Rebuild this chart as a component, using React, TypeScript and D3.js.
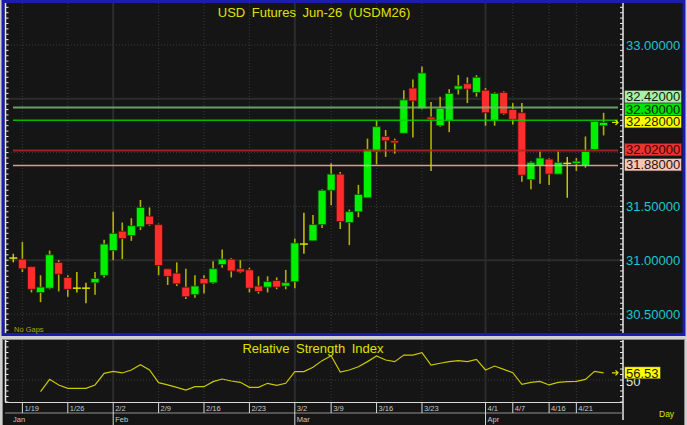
import React from "react";
import * as d3 from "d3";

const dates = [
  "1/16",
  "1/19", "1/20", "1/21", "1/22", "1/23",
  "1/26", "1/27", "1/28", "1/29", "1/30",
  "2/2", "2/3", "2/4", "2/5", "2/6",
  "2/9", "2/10", "2/11", "2/12", "2/13",
  "2/16", "2/17", "2/18", "2/19", "2/20",
  "2/23", "2/24", "2/25", "2/26", "2/27",
  "3/2", "3/3", "3/4", "3/5",
  "3/9", "3/10", "3/11", "3/12", "3/13",
  "3/16", "3/17", "3/18", "3/19", "3/20",
  "3/23", "3/24", "3/25", "3/26", "3/27", "3/30", "3/31",
  "4/1", "4/2", "4/6",
  "4/7", "4/8", "4/9", "4/10",
  "4/16", "4/17", "4/20",
  "4/21", "4/22", "4/23", "4/24",
];

const openP = [
  31.02, 31.01, 30.94, 30.70, 30.74, 30.98, 30.84, 30.74, 30.74, 30.79,
  30.86, 31.09, 31.27, 31.23, 31.31, 31.41, 31.33, 30.92, 30.88, 30.75,
  30.68, 30.83, 30.79, 30.96, 31.01, 30.92, 30.91, 30.76, 30.75, 30.81,
  30.76, 30.80, 31.15, 31.18, 31.33, 31.65, 31.80, 31.35, 31.45, 31.58,
  32.01, 32.15, 32.11, 32.18, 32.60, 32.41, 32.33, 32.25, 32.30, 32.59,
  32.64, 32.56, 32.58, 32.30, 32.56, 32.40, 32.37, 31.75, 31.88, 31.94,
  31.80, 31.90, 31.90, 31.88, 32.03, 32.25,
];
const highP = [
  31.06, 31.17, 30.94, 30.86, 31.09, 31.00, 30.86, 30.89, 30.79, 30.89,
  31.19, 31.45, 31.35, 31.39, 31.56, 31.49, 31.34, 30.92, 30.98, 30.92,
  30.86, 30.86, 30.99, 31.10, 31.02, 31.00, 30.93, 30.85, 30.85, 30.84,
  30.91, 31.20, 31.44, 31.42, 31.66, 31.90, 31.82, 31.47, 31.70, 32.13,
  32.30, 32.21, 32.13, 32.58, 32.68, 32.80, 32.47, 32.52, 32.59, 32.72,
  32.70, 32.72, 32.60, 32.56, 32.57, 32.46, 32.46, 31.92, 32.01, 31.95,
  32.01, 31.96, 31.95, 32.15, 32.29, 32.37,
];
const lowP = [
  30.98, 30.89, 30.70, 30.61, 30.73, 30.71, 30.66, 30.70, 30.60, 30.68,
  30.84, 31.00, 31.01, 31.18, 31.28, 31.32, 30.86, 30.77, 30.76, 30.64,
  30.65, 30.69, 30.78, 30.93, 30.84, 30.88, 30.70, 30.69, 30.70, 30.73,
  30.73, 30.74, 31.06, 31.18, 31.30, 31.51, 31.29, 31.14, 31.40, 31.58,
  31.89, 31.96, 31.99, 32.18, 32.14, 32.40, 31.83, 32.24, 32.19, 32.54,
  32.46, 32.52, 32.25, 32.25, 32.35, 32.26, 31.73, 31.66, 31.71, 31.70,
  31.80, 31.58, 31.83, 31.86, 32.02, 32.16,
];
const closeP = [
  31.02, 30.92, 30.73, 30.75, 31.05, 30.87, 30.73, 30.74, 30.74, 30.83,
  31.15, 31.25, 31.20, 31.32, 31.49, 31.33, 30.95, 30.85, 30.78, 30.66,
  30.76, 30.78, 30.92, 31.01, 30.90, 30.89, 30.74, 30.71, 30.80, 30.75,
  30.79, 31.16, 31.15, 31.33, 31.65, 31.80, 31.36, 31.45, 31.61, 32.03,
  32.24, 32.11, 32.09, 32.49, 32.48, 32.74, 32.31, 32.41, 32.55, 32.62,
  32.59, 32.70, 32.37, 32.55, 32.36, 32.31, 31.79, 31.91, 31.95, 31.80,
  31.91, 31.90, 31.92, 32.01, 32.29, 32.28,
];

const rsiValues: (number | null)[] = [
  null, null, null, 39.4, 50.6, 45.5, 42.4, 42.4, 42.4, 45.5,
  56.1, 57.9, 56.4, 59.1, 63.9, 59.1, 47.6, 45.5, 43.3, 40.9,
  43.9, 43.9, 48.5, 50.9, 49.1, 47.9, 43.3, 43.3, 47.0, 45.2,
  47.0, 57.6, 57.6, 61.5, 67.6, 72.1, 57.3, 59.1, 62.1, 66.7,
  71.8, 68.2, 66.7, 72.7, 72.7, 74.8, 63.6, 65.2, 66.7, 67.6,
  66.7, 68.8, 59.1, 62.7, 59.7, 56.7, 46.1, 47.9, 48.8, 45.5,
  47.9, 48.5, 48.8, 50.6, 57.9, 56.53,
];

const tickDates = ["1/19", "1/26", "2/2", "2/9", "2/16", "2/23", "3/2", "3/9", "3/16", "3/23", "4/1", "4/7", "4/16", "4/21"];
const monthLabels = ["Jan", "Feb", "Mar", "Apr"];
const monthStartDates = ["1/16", "2/2", "3/2", "4/1"];
const priceTicks = [30.5, 31.0, 31.5, 32.0, 32.5, 33.0];
const solidPriceGrid = [31.0, 32.5];
const levelValues = [32.42, 32.30, 32.02, 31.88];
const lastPrice = 32.28;
const rsiTickLabel = 50;
const lastRsi = 56.53;

const FONT = "'Liberation Sans', Arial, sans-serif";

export default function App() {
  const W = 687, H = 425;
  const plotL = 5, plotR = 623, plotT = 3, plotB = 333;
  const rsiT = 340, rsiB = 402;

  const x = d3.scaleLinear().domain([0, dates.length - 1]).range([13.3, 603.6]);
  const y = d3.scaleLinear().domain([30.5, 33]).range([314, 45]);
  const yR = d3.scaleLinear().domain([30, 85]).range([402, 341.5]);

  const tickIdx = tickDates.map((d) => dates.indexOf(d));
  const monthIdx = monthStartDates.map((d) => dates.indexOf(d));

  const vTop = y.invert(plotT), vBot = y.invert(plotB);
  const minorTicks: number[] = [];
  for (let k = Math.ceil(vBot / 0.05); k <= Math.floor(vTop / 0.05); k++) minorTicks.push(k * 0.05);
  const rsiMinor: number[] = [];
  for (let k = 30; k <= 85; k += 5) rsiMinor.push(k);

  const levelLine = [
    { stroke: "#74b874", w: 2 },
    { stroke: "#00d400", w: 1.5 },
    { stroke: "#b02424", w: 2 },
    { stroke: "#e8baa8", w: 1.5 },
  ];
  const levelBox = [
    { bg: "#a8f0a8", fg: "#102010" },
    { bg: "#00e400", fg: "#002000" },
    { bg: "#e83434", fg: "#3a0000" },
    { bg: "#f4c6b6", fg: "#301010" },
  ];

  type Lab = { v: number; bg: string; fg: string; pos?: number };
  const labs: Lab[] = levelValues.map((v, i) => ({ v, bg: levelBox[i].bg, fg: levelBox[i].fg }));
  labs.push({ v: lastPrice, bg: "#ffff00", fg: "#202000" });
  labs.sort((a, b) => a.v - b.v);
  const boxH = 12.5;
  let prev = Infinity;
  labs.forEach((l) => {
    const nat = y(l.v) - 0.8;
    l.pos = Math.min(nat, prev - boxH);
    prev = l.pos;
  });
  // axis labels hidden behind a level box are not drawn
  const visibleTicks = priceTicks.filter(
    (v) => !labs.some((l) => Math.abs(y(v) - (l.pos as number)) < boxH)
  );

  const rsiLine = d3
    .line<number | null>()
    .defined((d) => d !== null)
    .x((_, i) => x(i))
    .y((d) => yR(d as number));

  const bodyW = 8;

  return (
    <svg width={W} height={H} style={{ position: "absolute", left: 0, top: 0, display: "block" }} fontFamily={FONT}>
      <rect x={0} y={0} width={W} height={H} fill="#d0d0d0" />
      <rect x={3} y={1.5} width={681} height={333} fill="#151515" stroke="#1c1cb0" strokeWidth={3} />
      <rect x={2.5} y={339.5} width={682} height={86} fill="#151515" stroke="#8a8a8a" strokeWidth={1} />

      {priceTicks.map((v) => {
        const solid = solidPriceGrid.includes(v);
        return (
          <line key={"hg" + v} x1={plotL} x2={plotR} y1={y(v)} y2={y(v)}
            stroke={solid ? "#2c2c2c" : "#3a3a3a"} strokeWidth={solid ? 2 : 1}
            strokeDasharray={solid ? undefined : "1 2"} />
        );
      })}
      {tickIdx.map((i, k) => {
        const solid = monthIdx.includes(i);
        return (
          <line key={"vg" + k} x1={x(i)} x2={x(i)} y1={plotT} y2={plotB}
            stroke={solid ? "#2c2c2c" : "#3a3a3a"} strokeWidth={solid ? 2 : 1}
            strokeDasharray={solid ? undefined : "1 2"} />
        );
      })}

      <text x={314} y={17} textAnchor="middle" fill="#e0e000" fontSize={13} wordSpacing={3}>
        USD Futures Jun-26 (USDM26)
      </text>

      {dates.map((d, i) => {
        const o = openP[i], c = closeP[i], h = highP[i], l = lowP[i];
        const cx = x(i);
        if (Math.abs(o - c) < 0.005) {
          return (
            <g key={"c" + i}>
              <line x1={cx} x2={cx} y1={y(h)} y2={y(l)} stroke="#c8c800" strokeWidth={1.5} />
              <line x1={cx - bodyW / 2} x2={cx + bodyW / 2} y1={y(o)} y2={y(o)} stroke="#e0e000" strokeWidth={1.5} />
            </g>
          );
        }
        const up = c > o;
        const top = y(Math.max(o, c)), bot = y(Math.min(o, c));
        return (
          <g key={"c" + i}>
            <line x1={cx} x2={cx} y1={y(h)} y2={y(l)} stroke="#b0b000" strokeWidth={1.6} />
            <rect x={cx - bodyW / 2} y={top} width={bodyW} height={Math.max(bot - top, 2)}
              fill={up ? "#00f000" : "#ff2c2c"} stroke={up ? "#0c4a0c" : "#4a0c0c"} strokeWidth={0.8} />
          </g>
        );
      })}

      {levelValues.map((v, i) => (
        <line key={"lv" + i} x1={13} x2={618} y1={y(v)} y2={y(v)}
          stroke={levelLine[i].stroke} strokeWidth={levelLine[i].w} strokeOpacity={0.85} />
      ))}
      <path d={`M${612},${y(lastPrice)} h6 m-2.5,-2.5 l2.5,2.5 l-2.5,2.5`} stroke="#e0e000" strokeWidth={1.2} fill="none" />

      <text x={14} y={332} fill="#a8a800" fontSize={7.5}>No Gaps</text>

      <line x1={5.5} x2={5.5} y1={plotT} y2={plotB} stroke="#e8e8e8" strokeWidth={1.5} />
      {minorTicks.map((v, k) => (
        <line key={"lt" + k} x1={5} x2={8.5} y1={y(v)} y2={y(v)} stroke="#e8e8e8" strokeWidth={1} />
      ))}
      <line x1={623} x2={623} y1={plotT} y2={plotB} stroke="#e8e8e8" strokeWidth={1.5} />
      {minorTicks.map((v, k) => (
        <line key={"rt" + k} x1={620} x2={623} y1={y(v)} y2={y(v)} stroke="#e8e8e8" strokeWidth={1} />
      ))}
      {visibleTicks.map((v) => (
        <text key={"pl" + v} x={626} y={y(v) + 4.5} fill="#20c4d4" fontSize={13}>{v.toFixed(5)}</text>
      ))}
      {labs.map((l, k) => (
        <g key={"lb" + k}>
          <rect x={624.5} y={(l.pos as number) - boxH / 2} width={57} height={boxH} fill={l.bg} stroke="#303030" strokeWidth={0.6} />
          <text x={626} y={(l.pos as number) + 4.7} fill={l.fg} fontSize={13}>{l.v.toFixed(5)}</text>
        </g>
      ))}

      <line x1={plotL} x2={plotR} y1={yR(50)} y2={yR(50)} stroke="#3a3a3a" strokeDasharray="1 2" />
      {tickIdx.map((i, k) => {
        const solid = monthIdx.includes(i);
        return (
          <line key={"rvg" + k} x1={x(i)} x2={x(i)} y1={rsiT} y2={rsiB}
            stroke={solid ? "#2c2c2c" : "#3a3a3a"} strokeWidth={solid ? 2 : 1}
            strokeDasharray={solid ? undefined : "1 2"} />
        );
      })}
      <text x={313} y={353} textAnchor="middle" fill="#e0e000" fontSize={13} wordSpacing={3}>
        Relative Strength Index
      </text>
      <path d={rsiLine(rsiValues) || ""} fill="none" stroke="#c8c800" strokeWidth={1.2} />

      <line x1={5.5} x2={5.5} y1={rsiT} y2={rsiB} stroke="#e8e8e8" strokeWidth={1.5} />
      {rsiMinor.map((v) => (
        <line key={"rlt" + v} x1={5} x2={8.5} y1={yR(v)} y2={yR(v)} stroke="#e8e8e8" />
      ))}
      <line x1={623} x2={623} y1={rsiT} y2={420} stroke="#e8e8e8" strokeWidth={1.5} />
      {rsiMinor.map((v) => (
        <line key={"rrt" + v} x1={620} x2={623} y1={yR(v)} y2={yR(v)} stroke="#e8e8e8" />
      ))}
      <text x={626} y={yR(rsiTickLabel) + 5.5} fill="#e0e0e0" fontSize={13}>{rsiTickLabel}</text>
      <rect x={624.5} y={yR(lastRsi) - 6} width={36} height={12} fill="#ffff00" stroke="#303030" strokeWidth={0.6} />
      <text x={626} y={yR(lastRsi) + 4.7} fill="#202000" fontSize={13}>{lastRsi.toFixed(2)}</text>
      <path d={`M${612},${yR(lastRsi)} h6 m-2.5,-2.5 l2.5,2.5 l-2.5,2.5`} stroke="#e0e000" strokeWidth={1.2} fill="none" />

      <line x1={plotL} x2={plotR} y1={402.5} y2={402.5} stroke="#d8d8d8" strokeWidth={1} />
      <line x1={plotL} x2={plotR} y1={413} y2={413} stroke="#909090" strokeWidth={1} />
      {tickIdx.map((i, k) => (
        <g key={"dt" + k}>
          <line x1={x(i)} x2={x(i)} y1={402.5} y2={413} stroke="#d8d8d8" />
          <text x={x(i) + 2} y={411} fill="#c8c8c8" fontSize={7.5}>{tickDates[k]}</text>
        </g>
      ))}
      {monthIdx.map((i, k) => (
        <g key={"mt" + k}>
          {k > 0 && <line x1={x(i)} x2={x(i)} y1={413} y2={425} stroke="#d8d8d8" />}
          <text x={k === 0 ? 13 : x(i) + 2} y={422} fill="#c8c8c8" fontSize={7.5}>{monthLabels[k]}</text>
        </g>
      ))}
      <text x={659} y={417} fill="#e0e000" fontSize={8.5}>Day</text>
    </svg>
  );
}
